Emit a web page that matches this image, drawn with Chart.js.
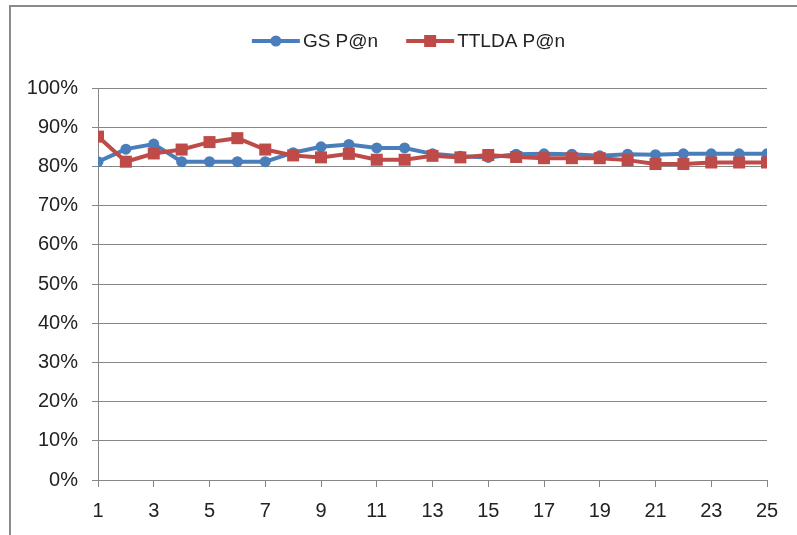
<!DOCTYPE html>
<html>
<head>
<meta charset="utf-8">
<script src="https://cdn.jsdelivr.net/npm/chart.js@4/dist/chart.umd.min.js"></script>
<style>
  html, body { margin: 0; padding: 0; background: #fff; overflow: hidden; }
  #frame { position: absolute; left: 9px; top: 5px; width: 1000px; height: 1000px; border: 2px solid #8a8a8a; box-sizing: border-box; }
  #wrap { position: absolute; left: 0; top: 0; width: 797px; height: 535px; }
</style>
</head>
<body>
<div id="frame"></div>
<div id="wrap"><canvas id="chart" width="797" height="535"></canvas></div>
<script>
// n values (top-n positions)
const categories = [1,2,3,4,5,6,7,8,9,10,11,12,13,14,15,16,17,18,19,20,21,22,23,24,25];
// precision at n, in percent
const gsPrecision = [81.2,84.4,85.7,81.2,81.2,81.2,81.2,83.5,85.0,85.6,84.7,84.7,83.2,82.6,82.3,83.1,83.2,83.1,82.7,83.1,83.0,83.2,83.2,83.2,83.2];
const ttldaPrecision = [87.6,81.2,83.3,84.3,86.2,87.2,84.3,82.8,82.3,83.2,81.7,81.7,82.7,82.3,82.9,82.4,82.1,82.1,82.1,81.6,80.6,80.6,81.0,81.0,81.0];
const seriesNames = ['GS P@n', 'TTLDA P@n'];

const BLUE = '#4A7EBB';
const RED = '#BE4B48';
const GRID = '#868686';
const FONT = "'Liberation Sans', Arial, sans-serif";

const toPoints = vals => vals.map((v, i) => ({ x: categories[i], y: v }));

// Legend: line segment with marker followed by the series name, above the plot
const lineLegend = {
  id: 'lineLegend',
  afterDraw(chart) {
    const ctx = chart.ctx;
    const items = chart.data.datasets.map(ds => ({
      text: ds.label, color: ds.borderColor, style: ds.pointStyle
    }));
    ctx.save();
    ctx.font = '19px ' + FONT;
    const lineLen = 48, gapText = 3, gapItem = 28;
    const widths = items.map(it => lineLen + gapText + ctx.measureText(it.text).width);
    const total = widths.reduce((a, b) => a + b, 0) + gapItem * (items.length - 1);
    let x = (chart.width - total) / 2 + 10;
    const y = 41;
    items.forEach((it, i) => {
      ctx.strokeStyle = it.color;
      ctx.fillStyle = it.color;
      ctx.lineWidth = 4;
      ctx.beginPath();
      ctx.moveTo(x, y);
      ctx.lineTo(x + lineLen, y);
      ctx.stroke();
      const cx = x + lineLen / 2;
      if (it.style === 'circle') {
        ctx.beginPath();
        ctx.arc(cx, y, 5.5, 0, Math.PI * 2);
        ctx.fill();
      } else {
        ctx.fillRect(cx - 6, y - 6, 12, 12);
      }
      ctx.fillStyle = '#222';
      ctx.textBaseline = 'middle';
      ctx.textAlign = 'left';
      ctx.fillText(it.text, x + lineLen + gapText, y + 1);
      x += widths[i] + gapItem;
    });
    ctx.restore();
  }
};

new Chart(document.getElementById('chart'), {
  type: 'line',
  data: {
    datasets: [
      {
        label: seriesNames[0],
        data: toPoints(gsPrecision),
        borderColor: BLUE,
        backgroundColor: BLUE,
        borderWidth: 4,
        pointStyle: 'circle',
        pointRadius: 5.5,
        pointBorderWidth: 0,
        pointBackgroundColor: BLUE,
        tension: 0,
        order: 1
      },
      {
        label: seriesNames[1],
        data: toPoints(ttldaPrecision),
        borderColor: RED,
        backgroundColor: RED,
        borderWidth: 4,
        pointStyle: 'rect',
        pointRadius: 8.5,
        pointBorderWidth: 0,
        pointBackgroundColor: RED,
        tension: 0,
        order: 0
      }
    ]
  },
  options: {
    responsive: false,
    animation: false,
    devicePixelRatio: 1,
    layout: { padding: { top: 88, right: 30, bottom: 0, left: 0 } },
    plugins: {
      legend: { display: false },
      tooltip: { enabled: false }
    },
    scales: {
      x: {
        type: 'linear',
        min: 1,
        max: 25,
        afterFit(scale) { scale.height = 55; },
        ticks: {
          stepSize: 2,
          color: '#222',
          padding: 12,
          maxRotation: 0,
          font: { family: FONT, size: 20 }
        },
        grid: { drawOnChartArea: false, drawTicks: true, tickLength: 7, color: GRID },
        border: { color: GRID, width: 1 }
      },
      y: {
        min: 0,
        max: 100,
        afterFit(scale) { scale.width = 98; },
        ticks: {
          stepSize: 10,
          color: '#222',
          padding: 14,
          font: { family: FONT, size: 20 },
          callback: v => v + '%'
        },
        grid: { color: GRID, tickLength: 6, lineWidth: 1 },
        border: { color: GRID, width: 1 }
      }
    }
  },
  plugins: [lineLegend]
});
</script>
</body>
</html>
